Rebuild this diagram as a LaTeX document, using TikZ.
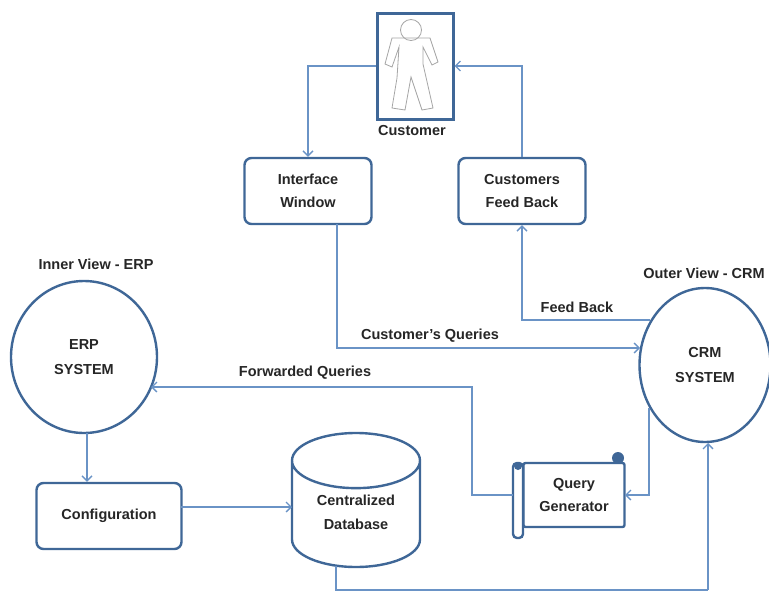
\documentclass[tikz,border=0pt]{standalone}
\usepackage{fontspec}
\setmainfont{Liberation Sans}
\usetikzlibrary{shapes, arrows.meta, positioning}
\definecolor{boxblue}{HTML}{3F6797}
\definecolor{lineblue}{HTML}{6A93C6}
\tikzstyle{procbox} = [draw=boxblue, line width=2.4pt, fill=white, rectangle, rounded corners=7pt, minimum width=127pt, minimum height=66pt, align=center, font=\bfseries\fontsize{14.5}{23}\selectfont, text=black!85]
\tikzstyle{sysnode} = [draw=boxblue, line width=2.4pt, fill=white, ellipse, inner sep=0pt, align=center, font=\bfseries\fontsize{14.5}{25}\selectfont, text=black!85]
\tikzstyle{caption} = [font=\bfseries\fontsize{14.5}{16}\selectfont, text=black!85, inner sep=1pt]
\tikzstyle{flow} = [draw=lineblue, line width=1.3pt, -{Straight Barb[length=5pt,width=10pt]}]
\tikzstyle{plainflow} = [draw=lineblue, line width=1.3pt]
\begin{document}
\begin{tikzpicture}[x=1pt,y=-1pt]
	\useasboundingbox (0,0) rectangle (769,592);
	% customer
	\node [draw=boxblue, line width=3pt, fill=white, minimum width=76pt, minimum height=106pt] (customer) at (415,66) {};
	\draw [gray!70, line width=0.8pt] (411,30) circle (10.5);
	\draw [gray!70, line width=0.8pt] (392,38) -- (385,64) -- (392,67) -- (399,47) -- (397,78) -- (392,108) -- (405,110) -- (411,77) -- (422,110) -- (433,108) -- (423,64) -- (423,47) -- (432,65) -- (438,62) -- (430,38) -- cycle;
	\node [caption] (customerlabel) at (412,131) {Customer};
	% boxes
	\node [procbox] (interface) at (308,191) {Interface\\Window};
	\node [procbox] (feedback) at (522,191) {Customers\\Feed Back};
	\node [procbox, minimum width=145pt] (config) at (109,516) {Configuration};
	% systems
	\node [sysnode, minimum width=146pt, minimum height=152pt] (erp) at (84,357) {ERP\\SYSTEM};
	\node [sysnode, minimum width=131pt, minimum height=154pt] (crm) at (705,365) {CRM\\SYSTEM};
	\node [caption] (innerlabel) at (96,264) {Inner View - ERP};
	\node [caption] (outerlabel) at (704,273) {Outer View - CRM};
	% database
	\node [draw=boxblue, line width=2.4pt, fill=white, cylinder, shape border rotate=90, aspect=0.65, minimum width=128pt, minimum height=134pt, anchor=shape center, align=center, font=\bfseries\fontsize{14.5}{24}\selectfont, text=black!85] (db) at (356,500) {Centralized\\Database\\[-10pt]\mbox{}};
	% query generator
	\fill [boxblue] (618,458) circle (6);
	\node [draw=boxblue, line width=2.4pt, fill=white, rounded corners=2pt, minimum width=101pt, minimum height=64pt, align=center, font=\bfseries\fontsize{14.5}{23}\selectfont, text=black!85] (query) at (574,495) {Query\\Generator};
	\draw [boxblue, line width=2.4pt, fill=white, rounded corners=4pt] (513,463) rectangle (523,538);
	\fill [boxblue] (518,466) circle (4);
	\coordinate (queryout) at (513,495);
	\coordinate (ifout) at (337,224);
	\coordinate (dbout) at (336,566);
	\coordinate (dbturn) at (336,590);
	\coordinate (crmin) at (708,443);
	\coordinate (crmturn) at (708,590);
	\coordinate (configout) at (181,507);
	\coordinate (dbin) at (292,507);
	\coordinate (erpin) at (151,387);
	\coordinate (erpout) at (87,433);
	\coordinate (queryturn) at (472,387);
	\coordinate (crmout) at (649,408);
	\coordinate (crmdown) at (649,495);
	\coordinate (queryin) at (625,495);
	\coordinate (crmfeed) at (650,320);
	\coordinate (crmq) at (640,348);
	% flows
	\draw [flow] (customer.west) -| (interface.north);
	\draw [flow] (feedback.north) |- (customer.east);
	\draw [flow] (crmfeed) -| (feedback.south);
	\draw [flow] (ifout) |- (crmq);
	\draw [flow] (crmout) -- (crmdown) -- (queryin);
	\draw [flow] (queryout) -| (queryturn) -- (erpin);
	\draw [flow] (erpout) -- (config.north -| erpout);
	\draw [flow] (configout) -- (dbin);
	\draw [plainflow] (dbout) -- (dbturn) -- (crmturn);
	\draw [flow] (crmturn) -- (crmin);
	% flow labels
	\node [caption] (feedlabel) at (577,307) {Feed Back};
	\node [caption] (querieslabel) at (430,336) {Customer's Queries};
	\node [caption] (forwardlabel) at (305,373) {Forwarded Queries};
\end{tikzpicture}
\end{document}
